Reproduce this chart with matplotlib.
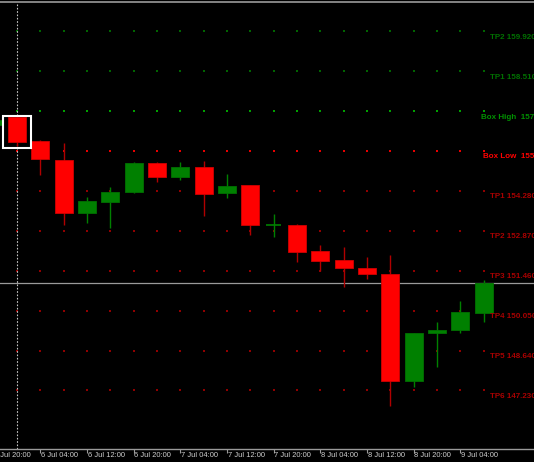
import matplotlib
matplotlib.use("Agg")
import matplotlib.pyplot as plt
from matplotlib.patches import Rectangle

# H4 candles, first one is 5 Jul 20:00 (only partly visible on the left)
opens  = [156.61, 156.89, 156.04, 155.37, 153.50, 153.89, 154.24, 155.27, 154.77, 155.12, 154.21,
          154.49, 153.06, 153.07, 152.16, 151.84, 151.56, 151.35, 147.57, 149.26, 149.36, 149.96]
highs  = [156.86, 156.96, 156.08, 155.97, 154.06, 154.42, 155.30, 155.30, 155.30, 155.34, 154.88,
          154.49, 153.46, 153.11, 152.37, 152.30, 151.95, 152.02, 149.26, 149.64, 150.39, 151.13]
lows   = [156.54, 155.87, 154.84, 153.07, 153.15, 152.97, 154.21, 154.59, 154.67, 153.39, 154.03,
          152.72, 152.65, 151.77, 151.45, 150.89, 151.17, 146.68, 147.35, 148.05, 149.26, 149.64]
closes = [156.79, 156.01, 155.41, 153.50, 153.92, 154.24, 155.27, 154.77, 155.12, 154.17, 154.45,
          153.07, 153.07, 152.12, 151.80, 151.56, 151.35, 147.57, 149.26, 149.36, 150.00, 151.03]

time_labels = ["5 Jul 20:00", "6 Jul 04:00", "6 Jul 12:00", "6 Jul 20:00", "7 Jul 04:00", "7 Jul 12:00",
               "7 Jul 20:00", "8 Jul 04:00", "8 Jul 12:00", "8 Jul 20:00", "9 Jul 04:00"]

# box + take profit levels
level_names  = ["TP2", "TP1", "Box High", "Box Low", "TP1", "TP2", "TP3", "TP4", "TP5", "TP6"]
level_prices = [159.92, 158.51, 157.10, 155.69, 154.28, 152.87, 151.46, 150.05, 148.64, 147.23]
level_texts  = ["TP2 159.920", "TP1 158.510", "Box High  157.1", "Box Low  155.6", "TP1 154.280",
                "TP2 152.870", "TP3 151.460", "TP4 150.050", "TP5 148.640", "TP6 147.230"]

bid_price = 151.03
box_candle = 1
box_range = (155.80, 156.93)

fig = plt.figure(figsize=(5.34, 4.62), dpi=100, facecolor="black")
ax = fig.add_axes([0, 13 / 462, 1, 447 / 462])
ax.set_facecolor("black")

n = len(opens)
xs = list(range(n))

# dot rows for each level
for name, price in zip(level_names, level_prices):
    if price > 157:
        dc = "#00a000" if name == "Box High" else "#006400"
    else:
        dc = "#e80000" if name == "Box Low" else "#900000"
    ax.scatter(xs, [price] * n, s=2.0, marker="s", color=dc, linewidths=0, zorder=1)

# candles
for i in xs:
    up = closes[i] >= opens[i]
    body_c = "#008000" if up else "#ff0000"
    wick_c = "#008000" if up else "#b00000"
    edge_c = "#007000" if up else "#d00000"
    ax.vlines(i, lows[i], highs[i], color=wick_c, lw=1.0, zorder=2)
    h = closes[i] - opens[i]
    if abs(h) < 0.02:
        ax.hlines(opens[i], i - 0.33, i + 0.33, color=body_c, lw=1.2, zorder=3)
    else:
        ax.bar(i, h, bottom=opens[i], width=0.77, color=body_c, edgecolor=edge_c, lw=0.6, zorder=3)

# highlight box around one candle
ax.add_patch(Rectangle((box_candle - 0.6, box_range[0]), 1.2, box_range[1] - box_range[0],
                       fill=False, edgecolor="white", lw=1.5, zorder=4))

# bid line and vertical separator
ax.axhline(bid_price, color="#9a9a9a", lw=0.9, zorder=1.5)
ax.axvline(box_candle, color="#c8c8c8", lw=0.8, dashes=(1.5, 1.5), ymax=0.995, zorder=1.5)

# level labels
for name, price, txt in zip(level_names, level_prices, level_texts):
    if price > 157:
        tc = "#009000" if name == "Box High" else "#007000"
    else:
        tc = "#ff0000" if name == "Box Low" else "#a80000"
    tx = 21.27
    if name == "Box High":
        tx = 20.89
    elif name == "Box Low":
        tx = 20.97
    ax.annotate(txt, (tx, price), xytext=(0, -4.3), textcoords="offset points", va="center", ha="left",
                color=tc, fontsize=5.8, fontweight="bold", family=["Liberation Sans", "DejaVu Sans"],
                annotation_clip=False, zorder=5)

# time axis: ticks every 2 bars, labels drawn as text so the cut one on the left still shows
tick_pos = xs[::2][:len(time_labels)]
ax.set_xticks(tick_pos)
ax.set_xticklabels([])
for tp, lab in zip(tick_pos, time_labels):
    ax.annotate(lab, (tp, 0), xycoords=ax.get_xaxis_transform(), xytext=(0.5, -4.4),
                textcoords="offset points", ha="left", va="center", color="#d0d0d0", fontsize=5.4,
                family=["Liberation Sans Narrow", "Liberation Sans", "DejaVu Sans"], annotation_clip=False)
ax.tick_params(axis="x", colors="#9a9a9a", length=3, width=0.8)
ax.set_yticks([])

ax.set_xlim(0.271, 23.16)
ax.set_ylim(145.16, 160.955)

for side in ["left", "right"]:
    ax.spines[side].set_visible(False)
ax.spines["bottom"].set_color("#9a9a9a")
ax.spines["top"].set_color("#9a9a9a")
ax.spines["bottom"].set_linewidth(1.0)
ax.spines["top"].set_linewidth(1.2)

fig.savefig("out.png", dpi=100, facecolor="black")
